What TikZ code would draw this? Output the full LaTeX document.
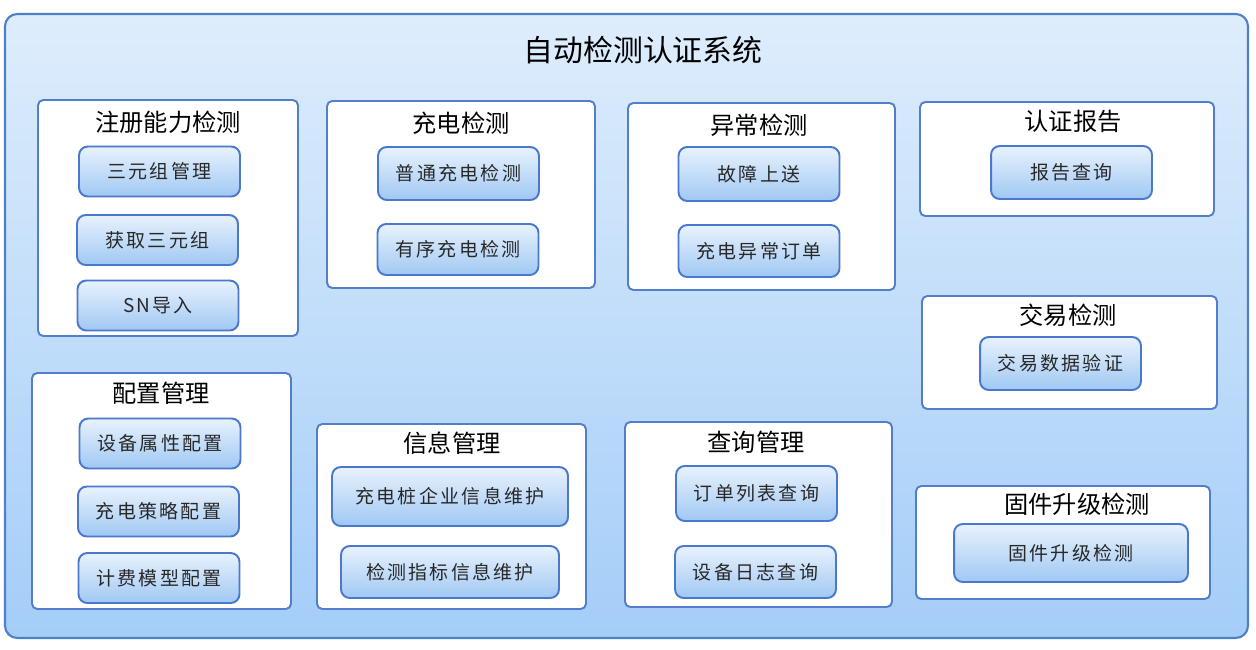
\documentclass[tikz,border=0pt]{standalone}
\usepackage{fontspec}
\usetikzlibrary{positioning,fit,backgrounds}
\newfontfamily\cjk{Noto Sans CJK SC}
\newfontfamily\cjkitem[LetterSpace=12]{Noto Sans CJK SC}
\definecolor{sysTop}{RGB}{222,237,252}
\definecolor{sysBottom}{RGB}{164,205,248}
\definecolor{sysBorder}{RGB}{78,128,200}
\definecolor{panelBorder}{RGB}{82,126,204}
\definecolor{itemTop}{RGB}{232,242,253}
\definecolor{itemBottom}{RGB}{160,200,243}
\definecolor{itemBorder}{RGB}{74,120,204}
\definecolor{itemText}{RGB}{40,40,40}
\tikzset{
  sysframe/.style={draw=sysBorder, line width=1.2pt, rounded corners=7pt,
    top color=sysTop, bottom color=sysBottom, inner sep=0pt},
  systitle/.style={font=\cjk\fontsize{17}{20}\selectfont},
  panel/.style={draw=panelBorder, fill=white, line width=1.1pt,
    rounded corners=3pt, inner sep=0pt},
  ptitle/.style={font=\cjk\fontsize{13.8}{16}\selectfont},
  itembox/.style={draw=itemBorder, line width=1.1pt, rounded corners=5pt,
    top color=itemTop, bottom color=itemBottom, text=itemText,
    minimum width=3.22cm, minimum height=1cm, inner sep=0pt,
    font=\cjkitem\fontsize{10.8}{12}\selectfont},
}

\begin{document}
\begin{tikzpicture}[x=0.02cm, y=-0.02cm]
\useasboundingbox (0,0) rectangle (1256,649);

%% SYSTEM FRAME
\node[sysframe, fit={(5,14)(1248,638)}] (SYS) {};
\node[systitle] (TITLE) at (643,50) {自动检测认证系统};

%% COLUMN 1
\node[panel, fit={(38,100)(298,336)}] (P1) {};
\node[ptitle] (t1) at (168,122) {注册能力检测};
\node[itembox] (triMgr) at (159.5,171.5) {三元组管理};
\node[itembox] (triGet) at (157.5,240) {获取三元组};
\node[itembox] (snImp) at (158,305.5) {SN导入};

\node[panel, fit={(32,373)(291,609)}] (P2) {};
\node[ptitle] (t2) at (161,393) {配置管理};
\node[itembox] (devCfg) at (160,443.5) {设备属性配置};
\node[itembox] (chgCfg) at (158.5,511.5) {充电策略配置};
\node[itembox] (feeCfg) at (159,578) {计费模型配置};

%% COLUMN 2
\node[panel, fit={(327,101)(595,288)}] (P3) {};
\node[ptitle] (t3) at (461,123) {充电检测};
\node[itembox, minimum height=1.06cm] (chgNorm) at (458.5,173.5) {普通充电检测};
\node[itembox, minimum height=1.02cm] (chgOrd) at (458,249.5) {有序充电检测};

\node[panel, fit={(317,424)(586,609)}] (P4) {};
\node[ptitle] (t4) at (452,443) {信息管理};
\node[itembox, minimum width=4.72cm, minimum height=1.18cm] (entInfo) at (450,496.5) {充电桩企业信息维护};
\node[itembox, minimum width=4.36cm, minimum height=1.04cm] (idxInfo) at (450,572) {检测指标信息维护};

%% COLUMN 3
\node[panel, fit={(628,103)(895,290)}] (P5) {};
\node[ptitle] (t5) at (759,125) {异常检测};
\node[itembox, minimum height=1.08cm] (fault) at (759,174) {故障上送};
\node[itembox, minimum height=1.04cm] (errOrd) at (759,251) {充电异常订单};

\node[panel, fit={(625,422)(892,607)}] (P6) {};
\node[ptitle] (t6) at (756,442) {查询管理};
\node[itembox, minimum height=1.1cm] (ordList) at (756.5,493.5) {订单列表查询};
\node[itembox, minimum height=1.04cm] (devLog) at (755.5,572) {设备日志查询};

%% COLUMN 4
\node[panel, fit={(920,102)(1214,216)}] (P7) {};
\node[ptitle] (t7) at (1073,121) {认证报告};
\node[itembox, minimum height=1.06cm] (rptQry) at (1071.5,172.5) {报告查询};

\node[panel, fit={(922,296)(1217,409)}] (P8) {};
\node[ptitle] (t8) at (1068,315) {交易检测};
\node[itembox, minimum height=1.06cm] (txCheck) at (1060.5,363.5) {交易数据验证};

\node[panel, fit={(916,486)(1210,599)}] (P9) {};
\node[ptitle] (t9) at (1077,504) {固件升级检测};
\node[itembox, minimum width=4.68cm, minimum height=1.16cm] (fwCheck) at (1071,553) {固件升级检测};

\end{tikzpicture}
\end{document}
